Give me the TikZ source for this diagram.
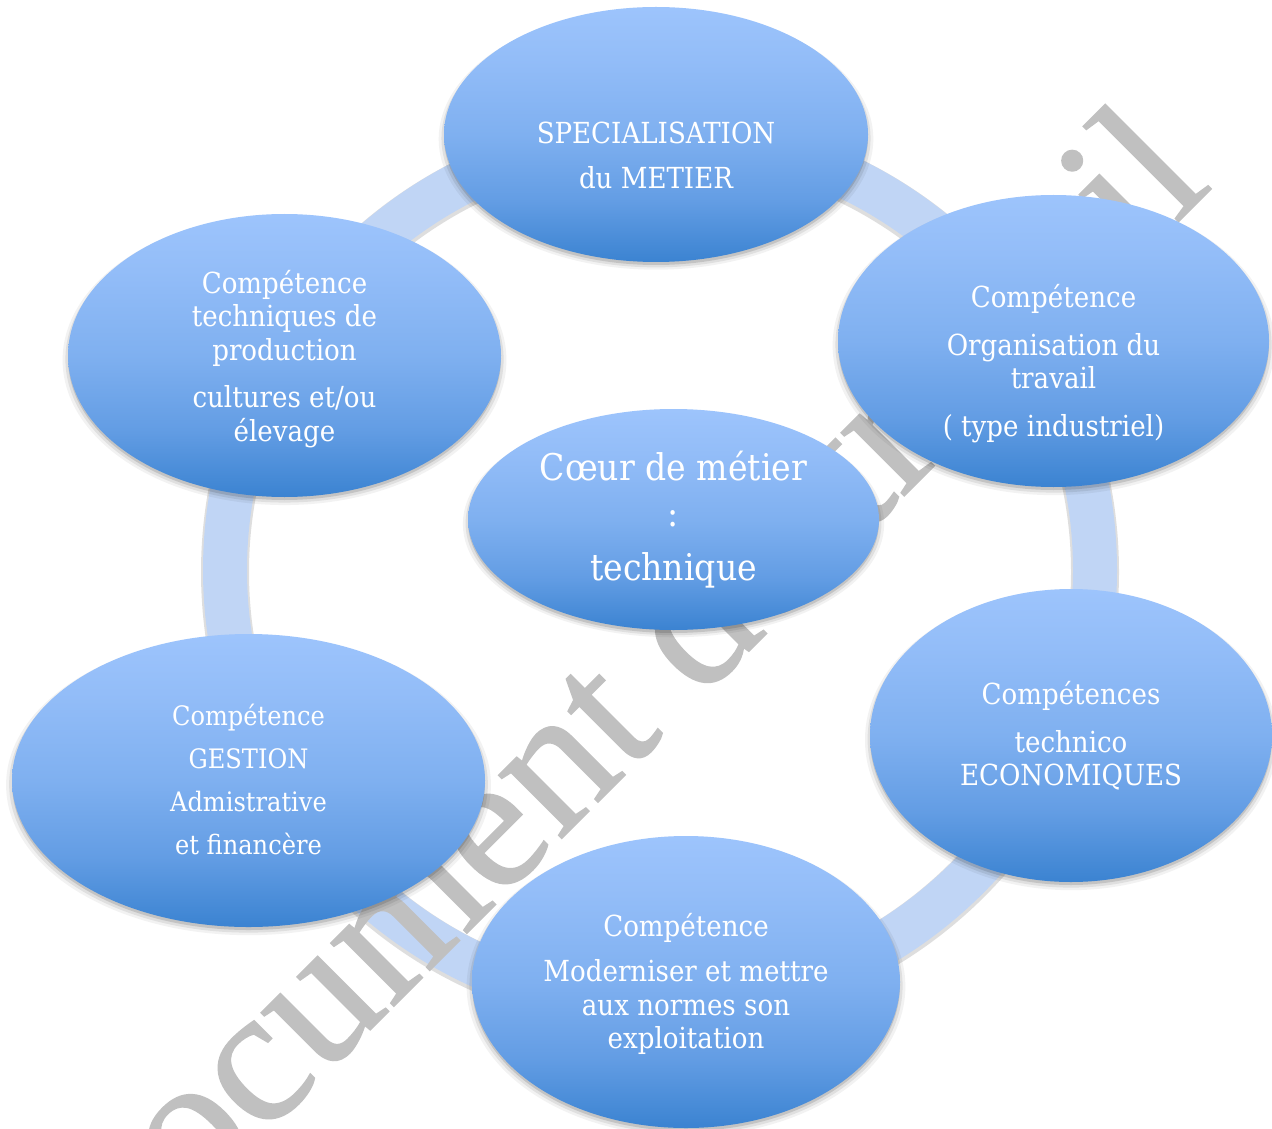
\documentclass[tikz,border=0pt]{standalone}
\usepackage{fontspec}
\setmainfont[FakeStretch=0.9]{DejaVu Serif}
\newfontfamily\wmfont[FakeBold=0.8]{Liberation Serif}
\usetikzlibrary{shapes.geometric,shadows}
\definecolor{ovlt}{RGB}{157,196,252}
\definecolor{ovltb}{RGB}{147,189,248}
\definecolor{ovmd}{RGB}{127,176,240}
\definecolor{ovmdb}{RGB}{99,157,228}
\definecolor{ovdk}{RGB}{59,131,209}
\definecolor{ringc}{RGB}{192,213,245}
\definecolor{wmgray}{RGB}{192,192,192}
\pgfdeclareverticalshading{ovalshade}{100bp}{color(0bp)=(ovdk); color(25bp)=(ovdk); color(37bp)=(ovmdb); color(50bp)=(ovmd); color(65bp)=(ovltb); color(75bp)=(ovlt); color(100bp)=(ovlt)}
\tikzset{
  oval/.style={ellipse, inner sep=0pt, draw=none,
    general shadow={fill=black, fill opacity=0.05, shadow scale=1.025, shadow yshift=-2.2pt},
    general shadow={fill=black, fill opacity=0.08, shadow scale=1.012, shadow yshift=-1.9pt},
    general shadow={fill=black, fill opacity=0.12, shadow yshift=-1.5pt},
    shading=ovalshade},
  txt/.style={text=white, align=center, inner sep=0pt, font=\fontsize{14.5}{16.7}\selectfont},
  wm/.style={text=wmgray, inner sep=0pt, font=\wmfont\fontsize{97}{97}\selectfont}
}
\begin{document}
\begin{tikzpicture}[x=0.5pt,y=-0.5pt]
\path[use as bounding box] (0,0) rectangle (1272,1128);
\clip (0,0) rectangle (1272,1128);
\fill[white] (0,0) rectangle (1272,1128);
% ring
\draw[black, opacity=0.13, line width=24pt] (660,572) circle (435);
\draw[ringc, line width=22pt] (660,570) circle (435);
% watermark
\node[wm, rotate=45, anchor=base east] (wmark) at (1214,186) {Document de travail};
% ellipses
\node[oval, minimum width=212pt, minimum height=127.5pt] (spec) at (656,134.5) {};
\node[oval, minimum width=215.5pt, minimum height=146pt] (orga) at (1053.5,341) {};
\node[oval, minimum width=216.5pt, minimum height=141.5pt] (tech) at (284.5,355.5) {};
\node[oval, minimum width=201pt, minimum height=146.5pt] (eco) at (1071,735.5) {};
\node[oval, minimum width=214pt, minimum height=146pt] (mod) at (686,982) {};
\node[oval, minimum width=236.5pt, minimum height=146.5pt] (gest) at (248.5,780.5) {};
\node[oval, minimum width=205.5pt, minimum height=110.5pt] (coeur) at (673.5,519.5) {};
% texts
\node[txt] (spec-t) at (656,155) {SPECIALISATION\\[5.8pt]du METIER};
\node[txt] (orga-t) at (1053.5,364) {Compétence\\[7pt]Organisation du\\travail\\[7.5pt]( type industriel)};
\node[txt] (tech-t) at (284.5,359) {Compétence\\techniques de\\production\\[7pt]cultures et/ou\\élevage};
\node[txt] (eco-t) at (1071,736) {Compétences\\[7pt]technico\\ECONOMIQUES};
\node[txt] (mod-t) at (686,984) {Compétence\\[6pt]Moderniser et mettre\\aux normes son\\exploitation};
\node[txt, font=\fontsize{13.4}{15.5}\selectfont] (gest-t) at (248.5,779) {Compétence\\[6pt]GESTION\\[6pt]Admistrative\\[6pt]et financère};
\node[txt, font=\fontsize{18.4}{23}\selectfont] (coeur-t) at (673.5,520) {Cœur de métier\\:\\[4pt]technique};
\end{tikzpicture}
\end{document}
